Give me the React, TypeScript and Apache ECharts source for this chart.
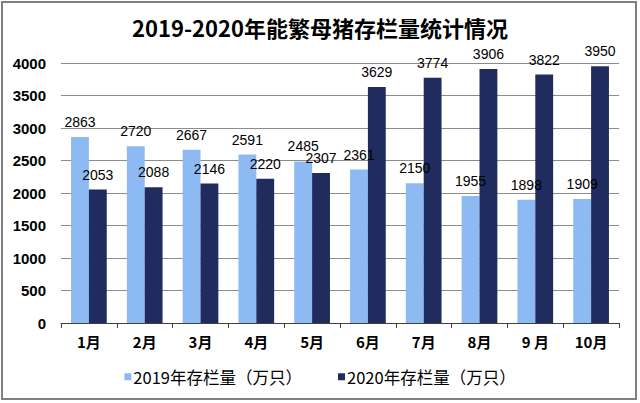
import React, { useEffect, useRef } from "react";
import * as echarts from "echarts";

const months = ["1月", "2月", "3月", "4月", "5月", "6月", "7月", "8月", "9 月", "10月"];
const stock2019 = [2863, 2720, 2667, 2591, 2485, 2361, 2150, 1955, 1898, 1909];
const stock2020 = [2053, 2088, 2146, 2220, 2307, 3629, 3774, 3906, 3822, 3950];
const seriesNames = ["2019年存栏量（万只）", "2020年存栏量（万只）"];
const titleText = "2019-2020年能繁母猪存栏量统计情况";

export default function App() {
  const ref = useRef<HTMLDivElement>(null);
  useEffect(() => {
    document.body.style.margin = "0";
    const chart = echarts.init(ref.current!, null, { renderer: "svg" });
    const labelStyle = {
      show: true,
      position: "top" as const,
      distance: 8,
      color: "#000",
      fontSize: 14,
      fontFamily: "Liberation Sans, Arial, sans-serif",
    };
    chart.setOption({
      animation: false,
      backgroundColor: "#fff",
      title: {
        text: titleText,
        left: "center",
        top: 11,
        textStyle: {
          fontSize: 22,
          fontWeight: "bold",
          color: "#000",
          fontFamily: "Noto Sans CJK SC, sans-serif",
        },
      },
      graphic: [
        {
          type: "rect",
          shape: { x: 2, y: 2, width: 634, height: 397 },
          style: { fill: "none", stroke: "#7f7f7f", lineWidth: 2 },
          silent: true,
        },
      ],
      legend: {
        bottom: 13,
        left: "center",
        icon: "rect",
        itemWidth: 7,
        itemHeight: 7,
        itemGap: 36,
        textStyle: {
          fontSize: 16.5,
          color: "#000",
          fontFamily: "Noto Sans CJK SC, sans-serif",
          padding: [0, 0, 0, -3],
        },
        data: seriesNames,
      },
      grid: { left: 61, right: 21, top: 63, bottom: 80, containLabel: false },
      xAxis: {
        type: "category",
        data: months,
        boundaryGap: true,
        axisLine: { lineStyle: { color: "#404040", width: 1 } },
        axisTick: { show: true, length: 5, alignWithLabel: false, lineStyle: { color: "#404040" } },
        axisLabel: {
          color: "#000",
          fontSize: 15,
          fontWeight: "bold",
          margin: 11,
          fontFamily: "Noto Sans CJK SC, sans-serif",
        },
      },
      yAxis: {
        type: "value",
        min: 0,
        max: 4000,
        interval: 500,
        axisLine: { show: false },
        axisTick: { show: false },
        splitLine: { lineStyle: { color: "#8c8c8c", width: 1 } },
        axisLabel: {
          color: "#000",
          fontSize: 15,
          fontWeight: "bold",
          margin: 15,
          formatter: (v: number) => String(v),
          fontFamily: "Liberation Sans, Arial, sans-serif",
        },
      },
      series: [
        {
          name: seriesNames[0],
          type: "bar",
          data: stock2019,
          barGap: "0%",
          barCategoryGap: "36%",
          itemStyle: { color: "#8DBAF2" },
          label: labelStyle,
        },
        {
          name: seriesNames[1],
          type: "bar",
          data: stock2020,
          barGap: "0%",
          barCategoryGap: "36%",
          itemStyle: { color: "#202C5E" },
          label: labelStyle,
        },
      ],
    });
    return () => chart.dispose();
  }, []);
  return <div ref={ref} style={{ width: 640, height: 403 }} />;
}
